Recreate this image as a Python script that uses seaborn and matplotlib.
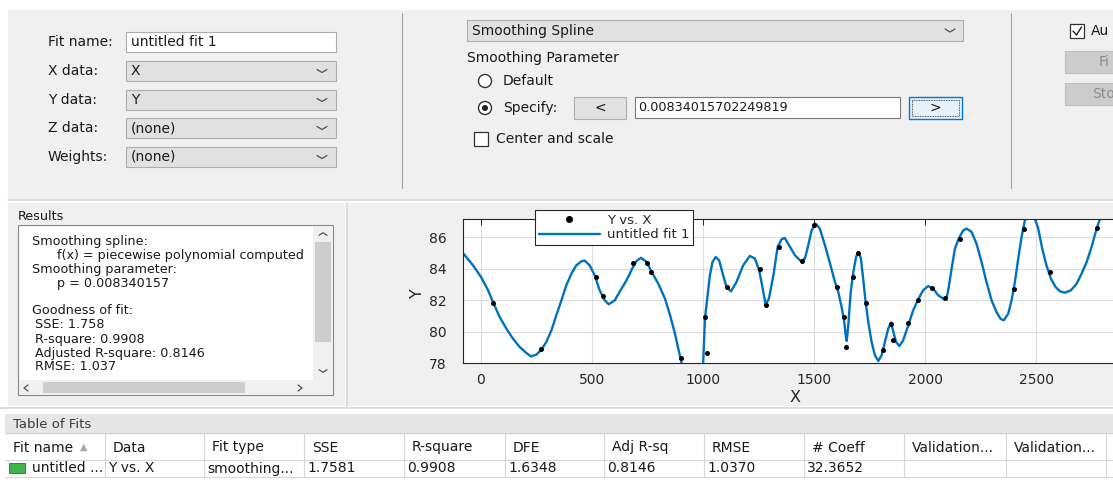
import matplotlib
matplotlib.use("Agg")
import matplotlib.pyplot as plt
import matplotlib.patches as mpatches
from matplotlib.lines import Line2D
import seaborn as sns
import pandas as pd

# ---------------- data ----------------
x_data = [55, 269, 518, 551, 683, 746, 765, 899, 1010, 1018, 1108, 1254, 1282, 1340,
          1446, 1499, 1601, 1634, 1645, 1676, 1699, 1732, 1808, 1846, 1856, 1921,
          1966, 2032, 2090, 2156, 2400, 2445, 2561, 2771]
y_data = [81.8, 78.9, 83.45, 82.27, 84.36, 84.34, 83.78, 78.32, 80.9, 78.66, 82.83,
          83.96, 81.68, 85.4, 84.51, 86.8, 82.83, 80.94, 79.03, 83.49, 85.02, 81.84,
          78.82, 80.49, 79.45, 80.57, 82.0, 82.77, 82.12, 85.9, 82.69, 86.51, 83.78, 86.62]

fit_x = [-81, -36, 0, 32, 57, 84, 114, 144, 174, 204, 224, 249, 272, 294, 317, 339,
         362, 384, 407, 429, 452, 467, 489, 512, 534, 557, 575, 602, 632, 650, 665,
         680, 700, 720, 746, 768, 798, 828, 851, 873, 888, 903, 940, 975, 1000, 1008,
         1018, 1030, 1042, 1056, 1072, 1090, 1105, 1125, 1150, 1180, 1210, 1233, 1252,
         1268, 1281, 1296, 1316, 1335, 1353, 1367, 1391, 1413, 1440, 1458, 1473, 1488,
         1506, 1525, 1548, 1571, 1593, 1608, 1623, 1635, 1641, 1646, 1653, 1664, 1676,
         1688, 1698, 1710, 1720, 1731, 1743, 1758, 1773, 1788, 1803, 1818, 1833, 1845,
         1856, 1868, 1883, 1900, 1923, 1945, 1968, 1990, 2013, 2035, 2058, 2085, 2095,
         2105, 2118, 2133, 2151, 2171, 2185, 2208, 2230, 2253, 2275, 2298, 2320, 2338,
         2353, 2373, 2388, 2403, 2418, 2433, 2448, 2473, 2493, 2508, 2526, 2545, 2565,
         2586, 2606, 2628, 2655, 2681, 2703, 2726, 2748, 2771, 2786, 2830]
fit_y = [85.0, 84.22, 83.48, 82.63, 81.78, 80.93, 80.19, 79.55, 79.02, 78.64, 78.42,
         78.53, 78.85, 79.34, 80.08, 81.04, 81.99, 82.95, 83.69, 84.22, 84.48, 84.52,
         84.22, 83.58, 82.63, 81.99, 81.74, 81.99, 82.73, 83.15, 83.55, 84.0, 84.5,
         84.7, 84.43, 83.8, 83.05, 82.1, 81.04, 79.87, 78.91, 78.0, 75.0, 75.5, 78.0,
         80.82, 82.1, 83.58, 84.43, 84.75, 84.54, 83.58, 82.84, 82.56, 83.16, 84.22,
         84.82, 84.65, 83.9, 82.73, 81.72, 82.1, 83.58, 85.39, 85.88, 85.96, 85.39,
         84.86, 84.48, 84.65, 85.5, 86.45, 86.87, 86.56, 85.5, 84.33, 83.16, 82.52,
         81.57, 80.61, 79.8, 79.4, 80.4, 82.52, 83.8, 84.75, 85.07, 84.65, 83.37, 81.89,
         80.61, 79.34, 78.49, 78.13, 78.49, 79.34, 80.19, 80.57, 79.97, 79.34, 79.08,
         79.44, 80.4, 81.35, 82.06, 82.63, 82.9, 82.73, 82.31, 82.06, 82.1, 82.8, 84.0,
         85.28, 85.96, 86.45, 86.56, 86.35, 85.6, 84.43, 83.16, 81.99, 81.25, 80.82,
         80.72, 81.14, 81.99, 83.16, 84.65, 86.03, 87.09, 88.0, 87.2, 86.56, 85.28,
         84.22, 83.37, 82.84, 82.56, 82.48, 82.63, 83.05, 83.69, 84.43, 85.39, 86.56,
         87.19, 88.8]

x_ticks = [0, 500, 1000, 1500, 2000, 2500]
y_ticks = [78, 80, 82, 84, 86]
x_limits = [-81, 2921]
y_limits = [78, 87.17]

fit_labels = ["Fit name:", "X data:", "Y data:", "Z data:", "Weights:"]
fit_values = ["untitled fit 1", "X", "Y", "(none)", "(none)"]
fit_type = "Smoothing Spline"
smoothing_value = "0.00834015702249819"
results_lines = ["Smoothing spline:", "f(x) = piecewise polynomial computed",
                 "Smoothing parameter:", "p = 0.008340157", "",
                 "Goodness of fit:", "SSE: 1.758", "R-square: 0.9908",
                 "Adjusted R-square: 0.8146", "RMSE: 1.037"]
table_headers = ["Fit name", "Data", "Fit type", "SSE", "R-square", "DFE",
                 "Adj R-sq", "RMSE", "# Coeff", "Validation...", "Validation..."]
table_row = ["untitled ...", "Y vs. X", "smoothing...", "1.7581", "0.9908", "1.6348",
             "0.8146", "1.0370", "32.3652", "", ""]

# ---------------- figure ----------------
sns.set_theme(style="whitegrid")
plt.rcParams['font.family'] = ['DejaVu Sans']

W, H = 1113, 483
fig = plt.figure(figsize=(W / 100, H / 100), dpi=100)
fig.patch.set_facecolor('white')
ui = fig.add_axes([0, 0, 1, 1])
ui.set_xlim(0, W)
ui.set_ylim(H, 0)
ui.axis('off')

PANEL = '#F0F0F0'
TXT = '#1A1A1A'


def rect(x0, y0, x1, y1, fc, ec='none', lw=1.0, ls='-', z=1):
    ui.add_patch(mpatches.Rectangle((x0, y0), x1 - x0, y1 - y0, facecolor=fc,
                                    edgecolor=ec, linewidth=lw, linestyle=ls, zorder=z))


def txt(x, y, s, size=10, color=TXT, ha='left', va='center', **kw):
    ui.text(x, y, s, fontsize=size, color=color, ha=ha, va=va, zorder=5, **kw)


def chevron(x, y, w=5, h=3, up=False, color='#505050'):
    d = -h if up else h
    ui.plot([x - w, x, x + w], [y - d / 2, y + d / 2, y - d / 2], color=color, lw=0.9, zorder=6)


# panels
rect(8, 10, W + 5, 199, PANEL)
ui.plot([8, W], [199.5, 199.5], color='#D5D5D5', lw=1.2, zorder=2)
rect(8, 203, 345, 406, PANEL)
rect(348, 203, W + 5, 406, PANEL)
ui.plot([346.5, 346.5], [203, 406], color='#D5D5D5', lw=1.2, zorder=2)
ui.plot([402, 402], [13, 188], color='#A0A0A0', lw=0.8, zorder=2)
ui.plot([1011, 1011], [13, 188], color='#A0A0A0', lw=0.8, zorder=2)

# left controls
rows_y = [42, 71, 100, 128, 157]
for i, (lab, val) in enumerate(zip(fit_labels, fit_values)):
    y = rows_y[i]
    txt(48, y, lab)
    if i == 0:
        rect(126, y - 10, 336, y + 10, 'white', '#ABADB3', 0.8, z=2)
    else:
        rect(126, y - 10, 336, y + 10, '#E1E1E1', '#ADADAD', 0.8, z=2)
        chevron(322, y, 5, 3)
    txt(131, y, val)

# middle controls
rect(467, 20, 963, 41, '#E1E1E1', '#ADADAD', 0.8, z=2)
txt(472, 30.5, fit_type)
chevron(950, 30.5, 5, 3)
txt(467, 58, "Smoothing Parameter")
ui.add_patch(mpatches.Ellipse((485, 81), 13, 13, facecolor='white', edgecolor='#333333',
                              lw=1.0, zorder=3))
txt(503, 81, "Default")
ui.add_patch(mpatches.Ellipse((485, 108), 13, 13, facecolor='white', edgecolor='#333333',
                              lw=1.0, zorder=3))
ui.add_patch(mpatches.Ellipse((485, 108), 6, 6, facecolor='#222222', edgecolor='none', zorder=4))
txt(503, 108, "Specify:")
rect(574, 97, 626, 119, '#E1E1E1', '#ADADAD', 0.8, z=2)
txt(600, 108, "<", ha='center')
rect(635, 97, 900, 118, 'white', '#7A7A7A', 0.8, z=2)
txt(638, 107.5, smoothing_value, size=9.2)
rect(909, 97, 962, 119, '#E5F1FB', '#0078D7', 1.0, z=2)
rect(912, 100, 959, 116, 'none', '#222222', 0.6, ls=(0, (1, 1)), z=3)
txt(935.5, 108, ">", ha='center')
rect(474, 132, 488, 146, 'white', '#333333', 0.9, z=2)
txt(496, 139, "Center and scale")

# right controls (cut by the screenshot edge)
rect(1070, 24, 1084, 38, 'white', '#333333', 0.9, z=2)
ui.plot([1073, 1076.5, 1081.5], [31, 35, 27], color='#222222', lw=1.0, zorder=4)
txt(1091, 31, "Au")
rect(1065, 51, W + 20, 73, '#CCCCCC', '#BFBFBF', 0.8, z=2)
txt(1099, 62, "Fi", color='#8C8C8C')
rect(1065, 83, W + 20, 105, '#CCCCCC', '#BFBFBF', 0.8, z=2)
txt(1092, 94, "Sto", color='#8C8C8C')

# results panel
txt(18, 216, "Results", size=9.2)
rect(18, 225, 333, 395, 'white', '#828790', 0.8, z=2)
rect(313, 226, 332.5, 380, PANEL, z=3)
rect(315, 242, 331, 342, '#CDCDCD', z=3)
chevron(323, 234, 4, 2.5, up=True)
chevron(323, 371, 4, 2.5)
rect(19, 380, 313, 394.5, PANEL, z=3)
rect(43, 382, 245, 393, '#CDCDCD', z=3)
ui.plot([28, 24, 28], [385, 388, 391], color='#505050', lw=0.9, zorder=6)
ui.plot([298, 302, 298], [385, 388, 391], color='#505050', lw=0.9, zorder=6)
rect(313, 380, 332.5, 394.5, PANEL, z=3)
res_y0 = 241
for k, line in enumerate(results_lines):
    if not line:
        continue
    if k in (1, 3):
        xx = 57
    elif k >= 6:
        xx = 35
    else:
        xx = 32
    txt(xx, res_y0 + 14 * k, line, size=9.2)

# table of fits
ui.plot([0, W], [407.5, 407.5], color='#D5D5D5', lw=1.2, zorder=2)
rect(5, 414, W + 5, 433, '#E6E6E6', z=2)
txt(13, 424, "Table of Fits", size=9.5, color='#3A3A3A')
rect(5, 433, W + 5, 477, 'white', z=2)
ui.plot([5, W], [433, 433], color='#CFCFCF', lw=0.8, zorder=3)
col_edges = [5, 105, 204, 304, 404, 505, 604, 704, 804, 904, 1006, 1106]
for xe in col_edges[1:]:
    ui.plot([xe, xe], [433, 477], color='#D6D6D6', lw=0.8, zorder=3)
ui.plot([5, W], [459.5, 459.5], color='#D6D6D6', lw=0.8, zorder=3)
ui.plot([5, W], [477, 477], color='#D6D6D6', lw=0.8, zorder=3)
for j, (hd, val) in enumerate(zip(table_headers, table_row)):
    x0 = col_edges[j]
    txt(x0 + 8, 447.5, hd, size=10)
    if val:
        txt(x0 + (27 if j == 0 else 3), 468.5, val, size=10)
txt(80, 447, "\u25B2", size=7, color='#A8A8A8')
rect(9, 463, 25, 473, '#3DB54A', '#1E7A2A', 0.6, z=4)

# ---------------- the plot (seaborn) ----------------
ax = fig.add_axes([463 / W, 1 - 363 / H, (1130 - 463) / W, (363 - 219) / H])
ax.set_facecolor('white')
fit_df = pd.DataFrame({"X": fit_x, "Y": fit_y})
pts_df = pd.DataFrame({"X": x_data, "Y": y_data})
sns.lineplot(data=fit_df, x="X", y="Y", ax=ax, color='#0072BD', linewidth=1.7,
             estimator=None, legend=False, zorder=2)
sns.scatterplot(data=pts_df, x="X", y="Y", ax=ax, color='black', s=13, marker='o',
                linewidth=0, legend=False, zorder=3)
ax.set_xlim(*x_limits)
ax.set_ylim(*y_limits)
ax.set_xticks(x_ticks)
ax.set_yticks(y_ticks)
ax.grid(True, color='#DCDCDC', linewidth=0.8)
for sp in ax.spines.values():
    sp.set_color('#262626')
    sp.set_linewidth(0.8)
ax.tick_params(direction='in', length=4, width=0.7, top=True, right=True,
               colors='#262626', labelsize=10, labelcolor='#262626')
ax.tick_params(axis='x', pad=7.5)
ax.tick_params(axis='y', pad=12)
ax.set_xlabel("X", fontsize=11.5, color='#262626')
ax.set_ylabel("Y", fontsize=11.5, color='#262626')
ax.xaxis.label.set_va('center')
ax.yaxis.label.set_va('center')
ax.xaxis.set_label_coords((795 - 463) / (1130 - 463), -(398 - 363) / 144)
ax.yaxis.set_label_coords((417 - 463) / (1130 - 463), (363 - 293) / 144)

handles = [Line2D([], [], marker='o', markersize=4, color='black', linestyle='none'),
           Line2D([], [], color='#0072BD', linewidth=1.7)]
leg = ax.legend(handles, ["Y vs. X", "untitled fit 1"], loc='upper left',
                bbox_to_anchor=(535 / W, 1 - 210 / H), bbox_transform=fig.transFigure,
                frameon=True, fancybox=False, framealpha=1, edgecolor='#262626',
                fontsize=9.5, handlelength=4.6, handletextpad=0.55, borderpad=0.3,
                labelspacing=0.1, borderaxespad=0)
leg.get_frame().set_linewidth(0.8)
for t in leg.get_texts():
    t.set_color('#262626')

fig.savefig("out.png", dpi=100, facecolor=fig.get_facecolor())
